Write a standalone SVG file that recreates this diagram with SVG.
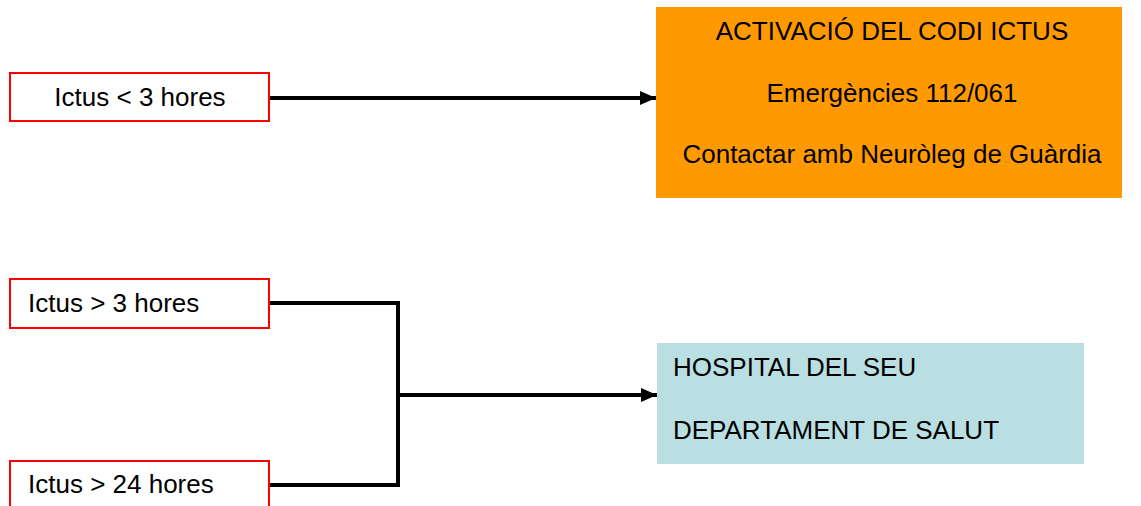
<svg xmlns="http://www.w3.org/2000/svg" width="1141" height="506" viewBox="0 0 1141 506">
<style>
.src{fill:#FFFFFF;stroke:#FF0000;stroke-width:2}
.t{font-family:"Liberation Sans",Arial,sans-serif;font-size:26px;fill:#000000}
.c{text-anchor:middle}
.ln{fill:none;stroke:#000000;stroke-width:4;stroke-linejoin:miter}
</style>
<defs>
<marker id="arr" markerUnits="userSpaceOnUse" markerWidth="16" markerHeight="16" refX="16" refY="8" orient="auto">
<path d="M0,1 L16,8 L0,15 Z" fill="#000000"/>
</marker>
</defs>
<rect width="1141" height="506" fill="#FFFFFF"/>
<g id="connectors">
<line class="ln" x1="270" y1="98" x2="656" y2="98" marker-end="url(#arr)"/>
<polyline class="ln" points="270,303 398,303 398,485 270,485"/>
<line class="ln" x1="398" y1="395" x2="657" y2="395" marker-end="url(#arr)"/>
</g>
<g id="n1">
<rect class="src" x="10" y="73" width="259" height="48"/>
<text class="t c" x="140" y="106">Ictus &lt; 3 hores</text>
</g>
<g id="n2">
<rect class="src" x="10" y="279" width="259" height="49"/>
<text class="t" x="28" y="312">Ictus &gt; 3 hores</text>
</g>
<g id="n3">
<rect class="src" x="10" y="461" width="259" height="60"/>
<text class="t" x="28" y="493">Ictus &gt; 24 hores</text>
</g>
<g id="n4">
<rect x="656" y="7" width="466" height="191" fill="#FF9900"/>
<text class="t c" x="892" y="40">ACTIVACIÓ DEL CODI ICTUS</text>
<text class="t c" x="892" y="102">Emergències 112/061</text>
<text class="t c" x="892" y="163">Contactar amb Neuròleg de Guàrdia</text>
</g>
<g id="n5">
<rect x="657" y="343" width="427" height="121" fill="#B9DFE3"/>
<text class="t" x="673" y="376">HOSPITAL DEL SEU</text>
<text class="t" x="673" y="439">DEPARTAMENT DE SALUT</text>
</g>
</svg>
